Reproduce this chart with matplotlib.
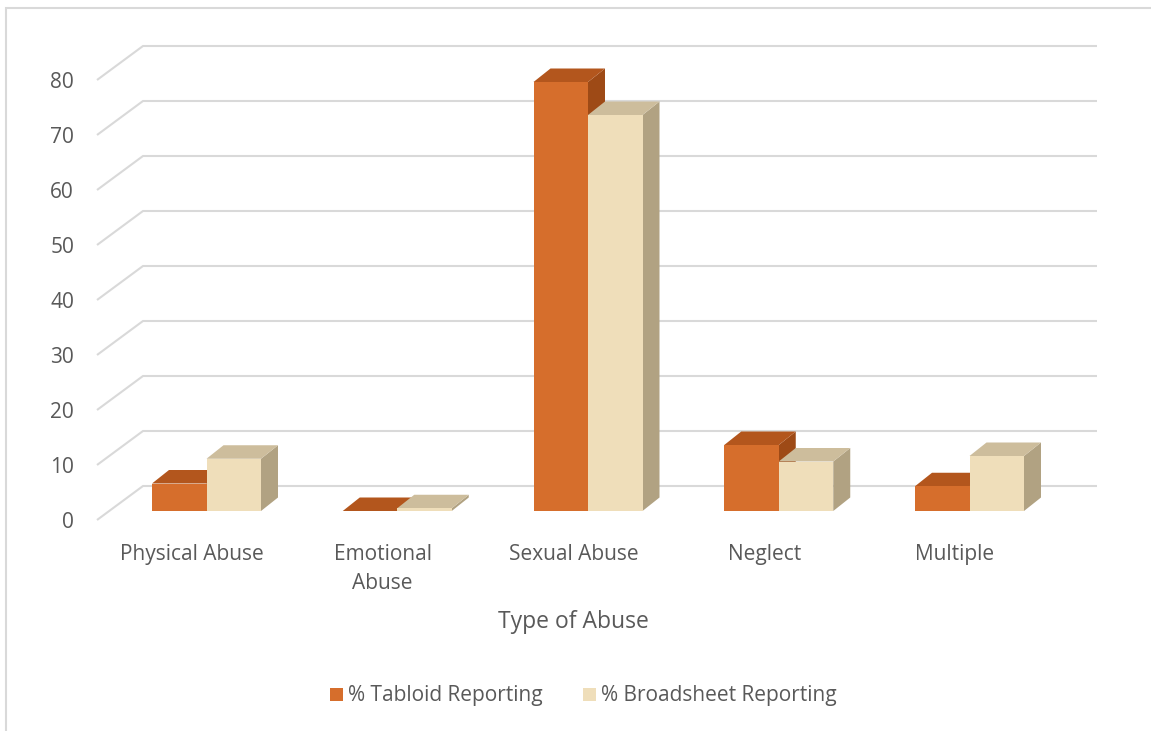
import matplotlib.pyplot as plt
from matplotlib.patches import Polygon, Rectangle

categories = ['Physical Abuse', 'Emotional\nAbuse', 'Sexual Abuse', 'Neglect', 'Multiple']
tabloid = [5, 0, 78, 12, 4.5]
broadsheet = [9.5, 0.5, 72, 9, 10]
yticks = [0, 10, 20, 30, 40, 50, 60, 70, 80]
series_names = ['% Tabloid Reporting', '% Broadsheet Reporting']

W, H = 1151, 731
# pixel layout of the pseudo-3D plot
CX0, CSTEP = 206.5, 190.75    # pixel x of first pair centre, spacing per category
BASE, VSCALE = 511, 5.5       # pixel y of bar base, pixels per value unit

plt.rcParams['font.family'] = ['Open Sans', 'DejaVu Sans']
txt = '#595959'
grid = '#d9d9d9'

fig = plt.figure(figsize=(W / 100, H / 100), dpi=100)
ax = fig.add_axes([0, 0, 1, 1])
ax.set_xlim((0 - CX0) / CSTEP, (W - CX0) / CSTEP)
ax.set_ylim((BASE - H) / VSCALE, BASE / VSCALE)
ax.axis('off')

def px(x):
    return (x - CX0) / CSTEP

def py(y):
    return (BASE - y) / VSCALE

# chart frame
fig.patches.append(Rectangle((6 / W, -0.1), 1.2, (H - 8) / H + 0.1, transform=fig.transFigure,
                             fill=False, ec='#d9d9d9', lw=1.5))

# back wall gridlines with the angled floor edge
fx, bx, rx = px(97), px(143), px(1097)
f_off, b_off = py(520), py(486)
for v in yticks:
    ax.plot([fx, bx, rx], [v + f_off, v + b_off, v + b_off], color=grid, lw=1.5,
            solid_capstyle='butt', zorder=1)
    ax.text(px(74), v + f_off - 0.5, str(v), ha='right', va='center', fontsize=15, color=txt)

bw = 54.5 / CSTEP
dx = 17 / CSTEP
dy = 13.5 / VSCALE

def bar3d(x0, h, front, top, side):
    ax.add_patch(Polygon([(x0 + bw, 0), (x0 + bw + dx, dy), (x0 + bw + dx, h + dy), (x0 + bw, h)],
                         closed=True, fc=side, ec='none', zorder=3))
    ax.add_patch(Polygon([(x0, h), (x0 + bw, h), (x0 + bw + dx, h + dy), (x0 + dx, h + dy)],
                         closed=True, fc=top, ec='none', zorder=3))
    ax.add_patch(Rectangle((x0, 0), bw, h, fc=front, ec='none', zorder=3))

for i in range(len(categories)):
    bar3d(i - bw, tabloid[i], '#d66e2c', '#b3561d', '#9e4a16')
    bar3d(i, broadsheet[i], '#efdeba', '#cdbd9c', '#b1a282')

# category labels along the floor front edge
for i, name in enumerate(categories):
    ax.text(i + px(192), py(544), name, ha='center', va='top',
            fontsize=15, color=txt, linespacing=1.5)

ax.text(px(573), py(622), 'Type of Abuse', ha='center', va='center', fontsize=16.5, color=txt)

# legend
for x0, col, label in [(330, '#d66e2c', series_names[0]), (583, '#efdeba', series_names[1])]:
    fig.patches.append(Rectangle((x0 / W, 1 - 701 / H), 13 / W, 13 / H, transform=fig.transFigure,
                                 fc=col, ec='none'))
    fig.text((x0 + 18) / W, 1 - 696 / H, label, ha='left', va='center', fontsize=15, color=txt)

fig.savefig('out.png', dpi=100)
